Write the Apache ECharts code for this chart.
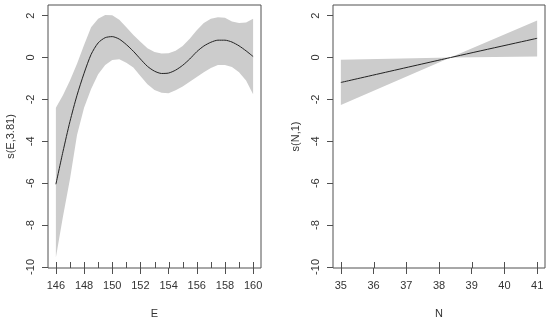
<!DOCTYPE html>
<html>
<head>
<meta charset="utf-8">
<script src="https://cdn.jsdelivr.net/npm/echarts@6/dist/echarts.min.js"></script>
<style>html,body{margin:0;padding:0;background:#fff;}#c{width:550px;height:324px;}</style>
</head>
<body>
<div id="c"></div>
<script>
// ---- data ----
const eX = [146,146.5,147,147.5,148,148.5,149,149.5,150,150.5,151,151.5,152,152.5,153,153.5,154,154.5,155,155.5,156,156.5,157,157.5,158,158.5,159,159.5,160];
const eFit = [-6.05,-4.5,-3.05,-1.8,-0.75,0.15,0.7,0.95,1.0,0.88,0.62,0.3,-0.07,-0.42,-0.65,-0.76,-0.74,-0.6,-0.37,-0.07,0.28,0.55,0.73,0.83,0.83,0.74,0.56,0.32,0.05];
const eUpper = [-2.4,-1.8,-1.1,-0.3,0.6,1.45,1.85,2.03,2.02,1.8,1.45,1.08,0.75,0.45,0.27,0.19,0.2,0.33,0.55,0.9,1.3,1.65,1.85,1.93,1.9,1.72,1.65,1.68,1.85];
const eLower = [-9.55,-7.6,-5.8,-3.7,-2.4,-1.5,-0.8,-0.35,-0.12,-0.08,-0.25,-0.47,-0.88,-1.28,-1.55,-1.68,-1.7,-1.56,-1.38,-1.15,-0.93,-0.7,-0.5,-0.36,-0.35,-0.45,-0.7,-1.1,-1.75];
const eTicks = [146,148,150,152,154,156,158,160];
const eRug = [146,147,148,149,150,151,152,153,154,155,156,157,158,159,160];

const nX = [35, 38.35, 41];
const nFit = [-1.19, 0, 0.92];
const nUpper = [-0.11, 0, 1.77];
const nLower = [-2.27, 0, 0.05];
const nTicks = [35,36,37,38,39,40,41];
const nRug = [35,36,37,38,39,40,41];

const yTicks = [-10,-8,-6,-4,-2,0,2];
const eTitle = 's(E,3.81)';
const nTitle = 's(N,1)';

// ---- chart ----
const FONT = 'Liberation Sans, Arial, sans-serif';
const LINE = '#505050';
const TXT = '#333';
const BAND = '#cccccc';
const Y_MIN = -10.05, Y_MAX = 2.51;

function bandSeries(xs, lo, hi, xi, yi) {
  return {
    type: 'custom', xAxisIndex: xi, yAxisIndex: yi, z: 1, silent: true,
    data: xs.map((x, i) => [x, lo[i], hi[i]]),
    encode: {x: 0, y: [1, 2]},
    renderItem: function (params, api) {
      if (params.dataIndex !== 0) return null;
      const pts = [];
      for (let i = 0; i < xs.length; i++) pts.push(api.coord([xs[i], hi[i]]));
      for (let i = xs.length - 1; i >= 0; i--) pts.push(api.coord([xs[i], lo[i]]));
      return {type: 'polygon', shape: {points: pts}, style: {fill: BAND, stroke: null}};
    }
  };
}
function rugSeries(rug, xi, yi) {
  return {
    type: 'custom', xAxisIndex: xi, yAxisIndex: yi, z: 4, silent: true,
    data: rug.map(v => [v, Y_MIN]),
    encode: {x: 0, y: 1},
    renderItem: function (params, api) {
      const p = api.coord([api.value(0), api.value(1)]);
      const x = Math.round(p[0]) + 0.5;
      return {type: 'line', shape: {x1: x, y1: p[1], x2: x, y2: p[1] - 6},
        style: {stroke: LINE, lineWidth: 1}};
    }
  };
}
function lineSeries(xs, ys, xi, yi) {
  return {
    type: 'line', xAxisIndex: xi, yAxisIndex: yi, z: 3, silent: true,
    data: xs.map((x, i) => [x, ys[i]]),
    showSymbol: false, smooth: 0.25,
    lineStyle: {color: '#222', width: 1}
  };
}
function mainX(gi, min, max, ticks, name) {
  return {
    type: 'value', gridIndex: gi, min: min, max: max, position: 'bottom',
    name: name, nameLocation: 'middle', nameGap: 40,
    nameTextStyle: {fontFamily: FONT, fontSize: 11, color: TXT},
    axisLine: {show: false, onZero: false},
    axisTick: {show: true, inside: false, length: 6, customValues: ticks, lineStyle: {color: LINE}},
    axisLabel: {show: true, customValues: ticks, margin: 12, fontFamily: FONT, fontSize: 11, color: TXT},
    splitLine: {show: false}
  };
}
function mainY(gi, name) {
  return {
    type: 'value', gridIndex: gi, min: Y_MIN, max: Y_MAX, position: 'left',
    name: name, nameLocation: 'middle', nameGap: 32, nameRotate: 90,
    nameTextStyle: {fontFamily: FONT, fontSize: 11, color: TXT},
    axisLine: {show: false, onZero: false},
    axisTick: {show: true, inside: false, length: 6, customValues: yTicks, lineStyle: {color: LINE}},
    axisLabel: {show: true, customValues: yTicks, rotate: 90, margin: 17, align: 'center', verticalAlign: 'middle',
      fontFamily: FONT, fontSize: 11, color: TXT},
    splitLine: {show: false}
  };
}

const chart = echarts.init(document.getElementById('c'), null, {renderer: 'canvas'});
chart.setOption({
  animation: false,
  backgroundColor: '#fff',
  textStyle: {fontFamily: FONT},
  grid: [
    {left: 48, top: 5, width: 213, height: 269, show: true, borderColor: LINE, borderWidth: 1, backgroundColor: 'transparent'},
    {left: 333, top: 5, width: 212, height: 269, show: true, borderColor: LINE, borderWidth: 1, backgroundColor: 'transparent'}
  ],
  xAxis: [
    mainX(0, 145.44, 160.56, eTicks, 'E'),
    mainX(1, 34.76, 41.24, nTicks, 'N')
  ],
  yAxis: [mainY(0, eTitle), mainY(1, nTitle)],
  series: [
    bandSeries(eX, eLower, eUpper, 0, 0),
    lineSeries(eX, eFit, 0, 0),
    rugSeries(eRug, 0, 0),
    bandSeries(nX, nLower, nUpper, 1, 1),
    lineSeries(nX, nFit, 1, 1),
    rugSeries(nRug, 1, 1)
  ]
});
</script>
</body>
</html>
